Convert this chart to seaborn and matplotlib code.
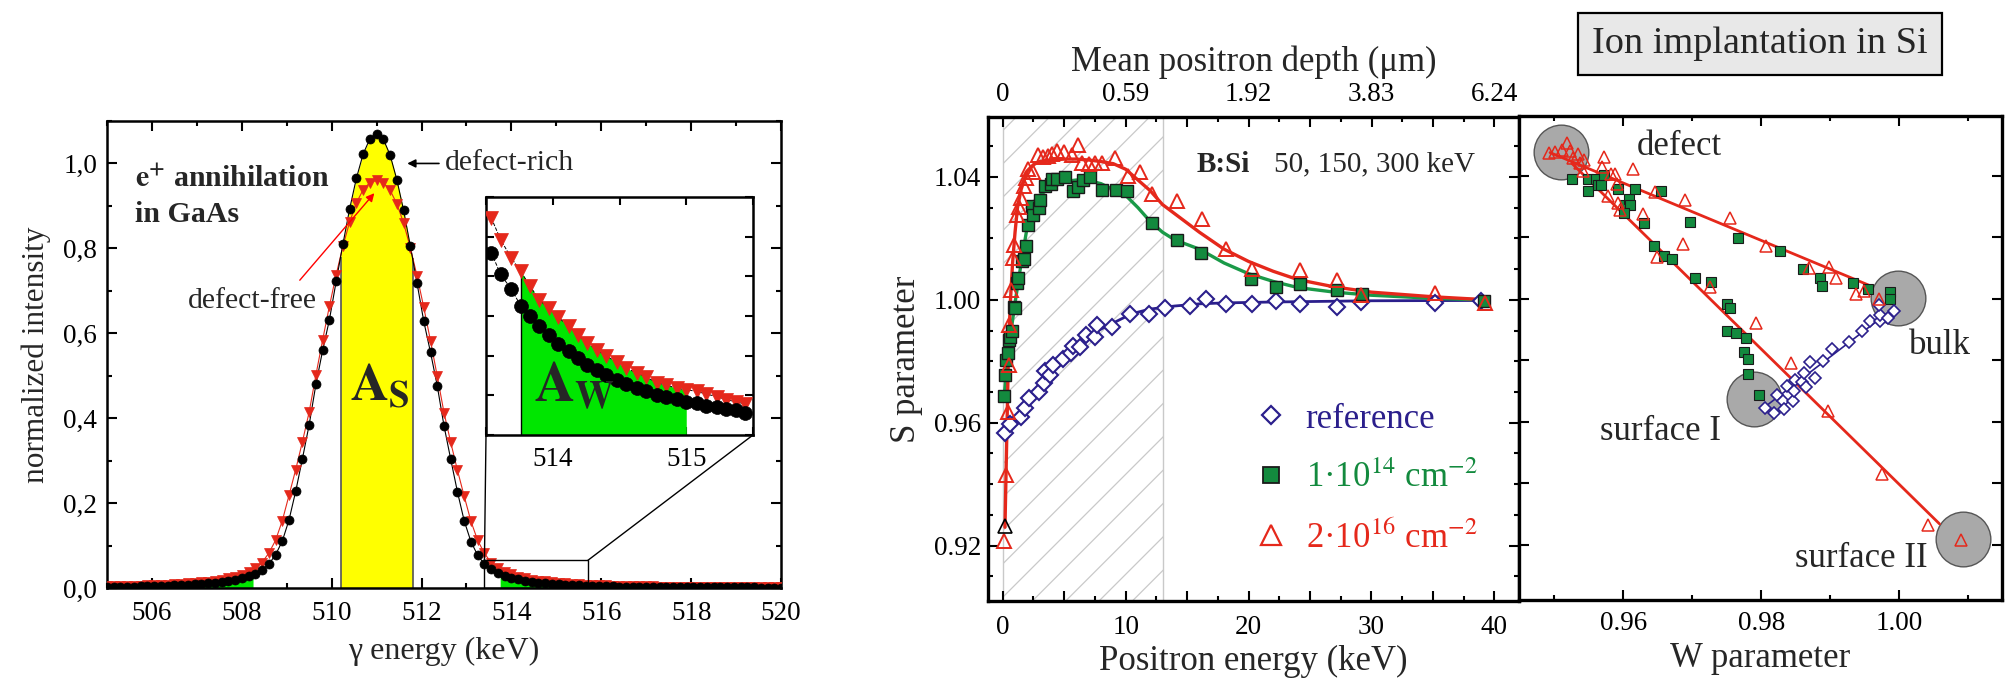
import numpy as np
import matplotlib
matplotlib.use("Agg")
import matplotlib.pyplot as plt
import seaborn as sns
from matplotlib.ticker import MultipleLocator, FixedLocator, FixedFormatter, NullFormatter
from matplotlib.patches import Rectangle, ConnectionPatch
from matplotlib.lines import Line2D

# ---------------- data: left panel (Doppler spectrum) ----------------
energy_keV = [505.00, 505.15, 505.30, 505.45, 505.60, 505.75, 505.90, 506.05, 506.20, 506.35,
              506.50, 506.65, 506.80, 506.95, 507.10, 507.25, 507.40, 507.55, 507.70, 507.85,
              508.00, 508.15, 508.30, 508.45, 508.60, 508.75, 508.90, 509.05, 509.20, 509.35,
              509.50, 509.65, 509.80, 509.95, 510.10, 510.25, 510.40, 510.55, 510.70, 510.85,
              511.00, 511.15, 511.30, 511.45, 511.60, 511.75, 511.90, 512.05, 512.20, 512.35,
              512.50, 512.65, 512.80, 512.95, 513.10, 513.25, 513.40, 513.55, 513.70, 513.85,
              514.00, 514.15, 514.30, 514.45, 514.60, 514.75, 514.90, 515.05, 515.20, 515.35,
              515.50, 515.65, 515.80, 515.95, 516.10, 516.25, 516.40, 516.55, 516.70, 516.85,
              517.00, 517.15, 517.30, 517.45, 517.60, 517.75, 517.90, 518.05, 518.20, 518.35,
              518.50, 518.65, 518.80, 518.95, 519.10, 519.25, 519.40, 519.55, 519.70, 519.85,
              520.00]
defect_rich = [0.0024, 0.0026, 0.0028, 0.0030, 0.0033, 0.0036, 0.0039, 0.0043, 0.0048, 0.0053,
               0.0059, 0.0066, 0.0074, 0.0083, 0.0094, 0.0107, 0.0123, 0.0143, 0.0168, 0.0198,
               0.0235, 0.028, 0.034, 0.043, 0.056, 0.078, 0.110, 0.160, 0.228, 0.305,
               0.385, 0.480, 0.560, 0.632, 0.722, 0.810, 0.893, 0.965, 1.022, 1.058,
               1.070, 1.057, 1.020, 0.962, 0.890, 0.806, 0.718, 0.628, 0.555, 0.476,
               0.382, 0.303, 0.226, 0.158, 0.109, 0.077, 0.056, 0.044, 0.035, 0.029,
               0.0242, 0.0204, 0.0173, 0.0148, 0.0128, 0.0111, 0.0097, 0.0086, 0.0076, 0.0068,
               0.0061, 0.0055, 0.0050, 0.0045, 0.0041, 0.0037, 0.0034, 0.0031, 0.0029, 0.0027,
               0.0025, 0.0023, 0.0022, 0.0021, 0.0020, 0.0019, 0.0018, 0.0017, 0.0016, 0.0016,
               0.0015, 0.0014, 0.0014, 0.0013, 0.0013, 0.0012, 0.0012, 0.0011, 0.0011, 0.0010,
               0.0010]
defect_free = [0.0038, 0.0041, 0.0044, 0.0047, 0.0051, 0.0055, 0.0060, 0.0066, 0.0072, 0.0079,
               0.0087, 0.0096, 0.0107, 0.0119, 0.0134, 0.0151, 0.0172, 0.0197, 0.0228, 0.0265,
               0.0315, 0.038, 0.047, 0.060, 0.082, 0.112, 0.158, 0.218, 0.279, 0.345,
               0.415, 0.502, 0.585, 0.664, 0.738, 0.805, 0.862, 0.907, 0.938, 0.955,
               0.960, 0.955, 0.937, 0.905, 0.860, 0.802, 0.735, 0.661, 0.582, 0.499,
               0.413, 0.343, 0.277, 0.216, 0.157, 0.112, 0.082, 0.059, 0.046, 0.038,
               0.0318, 0.0268, 0.0231, 0.0200, 0.0175, 0.0154, 0.0137, 0.0122, 0.0110, 0.0099,
               0.0090, 0.0082, 0.0075, 0.0069, 0.0063, 0.0058, 0.0053, 0.0049, 0.0046, 0.0043,
               0.0040, 0.0037, 0.0035, 0.0033, 0.0031, 0.0029, 0.0028, 0.0026, 0.0025, 0.0024,
               0.0023, 0.0022, 0.0021, 0.0020, 0.0019, 0.0018, 0.0017, 0.0017, 0.0016, 0.0015,
               0.0015]
s_window = [510.2, 511.8]
w_windows = [[507.0, 508.25], [513.75, 515.0]]
zoom_box = [513.4, 515.7, 0.0, 0.065]
left_yticks = [0.0, 0.2, 0.4, 0.6, 0.8, 1.0]
left_yticklabels = ["0,0", "0,2", "0,4", "0,6", "0,8", "1,0"]

# inset (finer channel sampling)
inset_E = [513.54, 513.61, 513.69, 513.76, 513.83, 513.90, 513.97, 514.04, 514.12, 514.19,
           514.26, 514.33, 514.40, 514.48, 514.55, 514.63, 514.70, 514.78, 514.85, 514.93,
           515.00, 515.08, 515.15, 515.23, 515.30, 515.37, 515.44]
inset_rich = [0.0459, 0.0405, 0.0367, 0.0326, 0.0299, 0.0275, 0.0251, 0.0230, 0.0213, 0.0194,
              0.0176, 0.0164, 0.0151, 0.0138, 0.0128, 0.0118, 0.0110, 0.0101, 0.0095, 0.0090,
              0.0084, 0.0080, 0.0074, 0.0070, 0.0066, 0.0063, 0.0056]
inset_free = [0.0547, 0.0492, 0.0446, 0.0413, 0.0375, 0.0341, 0.0319, 0.0297, 0.0275, 0.0252,
              0.0232, 0.0214, 0.0200, 0.0183, 0.0168, 0.0157, 0.0146, 0.0132, 0.0126, 0.0118,
              0.0114, 0.0110, 0.0103, 0.0097, 0.0089, 0.0084, 0.0078]
inset_w_window = [513.76, 515.0]

# ---------------- data: middle panel (S vs positron energy) ----------------
ref_E = [0.18, 0.63, 1.51, 1.84, 2.11, 2.96, 3.35, 3.47, 3.87, 4.11, 4.92, 5.53, 5.68, 6.28,
         6.74, 7.49, 7.64, 8.88, 10.36, 11.87, 13.23, 15.23, 16.5, 18.16, 20.24, 22.24, 24.17,
         27.16, 29.15, 35.2, 38.94]
ref_S = [0.9567, 0.9596, 0.9618, 0.9649, 0.9682, 0.9701, 0.9728, 0.9767, 0.9756, 0.9788,
         0.9808, 0.9827, 0.9849, 0.9846, 0.9885, 0.9878, 0.9917, 0.9913, 0.9955, 0.9953,
         0.9972, 0.9981, 1.0004, 0.9985, 0.9986, 0.9997, 0.9985, 0.9976, 0.9992, 0.9991, 0.9997]
ref_fit_E = [0.18, 0.5, 1.0, 1.5, 2.0, 3.0, 4.0, 5.0, 6.0, 7.0, 8.0, 9.0, 10.0, 11.0, 12.0,
             13.0, 14.0, 16.0, 18.0, 22.0, 26.0, 30.0, 39.0]
ref_fit_S = [0.9567, 0.959, 0.9605, 0.962, 0.9665, 0.9715, 0.9765, 0.981, 0.985, 0.9885,
             0.9905, 0.9925, 0.9945, 0.996, 0.997, 0.9975, 0.998, 0.9987, 0.999, 0.9993,
             0.9995, 0.9997, 0.9998]

low_E = [0.12, 0.18, 0.30, 0.45, 0.54, 0.62, 0.73, 0.94, 0.97, 1.15, 1.25, 1.55, 1.75, 1.90,
         2.05, 2.40, 2.50, 2.95, 3.05, 3.40, 3.95, 4.02, 4.40, 5.08, 5.68, 6.13, 6.53, 7.13,
         8.10, 9.18, 10.09, 12.18, 14.17, 16.16, 20.18, 22.20, 24.17, 27.20, 29.25, 39.15]
low_S = [0.9686, 0.9756, 0.9805, 0.9827, 0.9869, 0.9880, 0.9897, 0.9977, 0.9972, 1.0055,
         1.0071, 1.0125, 1.0133, 1.0175, 1.0245, 1.0305, 1.0275, 1.0300, 1.0325, 1.0370,
         1.0377, 1.0394, 1.0392, 1.0400, 1.0353, 1.0368, 1.0390, 1.0400, 1.0359, 1.0359,
         1.0353, 1.0250, 1.0195, 1.0154, 1.0068, 1.0041, 1.0051, 1.0032, 1.0019, 0.9997]
low_fit_E = [0.1, 0.5, 1.0, 1.5, 2.0, 2.5, 3.0, 4.0, 5.0, 6.0, 7.0, 8.0, 9.0, 10.0, 11.0,
             12.0, 13.0, 14.0, 16.0, 18.0, 20.0, 22.0, 24.0, 27.0, 30.0, 35.0, 39.0]
low_fit_S = [0.968, 0.985, 0.999, 1.012, 1.024, 1.030, 1.034, 1.037, 1.0385, 1.039, 1.0388,
             1.0378, 1.0358, 1.034, 1.030, 1.0255, 1.022, 1.0195, 1.0165, 1.012, 1.0085,
             1.006, 1.004, 1.0025, 1.0015, 1.0005, 1.0]

high_E = [0.12, 0.30, 0.39, 0.48, 0.54, 0.69, 0.85, 0.94, 1.15, 1.30, 1.45, 1.69, 1.90, 2.05,
          2.50, 2.90, 3.26, 3.70, 4.00, 4.41, 5.00, 5.62, 6.13, 6.43, 7.04, 7.49, 8.10, 9.15,
          10.15, 11.18, 12.18, 14.14, 16.19, 18.13, 20.24, 24.17, 27.19, 29.18, 35.2, 39.2]
high_S = [0.9215, 0.9430, 0.9635, 0.9788, 0.9917, 1.0032, 1.0135, 1.0180, 1.0276, 1.0301,
          1.0333, 1.0372, 1.0397, 1.0426, 1.0417, 1.0471, 1.0464, 1.0468, 1.0474, 1.0485,
          1.0480, 1.0472, 1.0503, 1.0446, 1.0442, 1.0446, 1.0446, 1.0462, 1.0404, 1.0417,
          1.0346, 1.0321, 1.0263, 1.0167, 1.0100, 1.0096, 1.0064, 1.0015, 1.0023, 0.9991]
high_fit_E = [0.18, 0.3, 0.45, 0.6, 0.8, 1.0, 1.2, 1.5, 2.0, 2.5, 3.0, 4.0, 5.0, 6.0, 7.0,
              8.0, 9.0, 10.0, 11.0, 12.0, 13.0, 14.0, 15.0, 16.0, 18.0, 20.0, 22.0, 24.0,
              27.0, 30.0, 35.0, 39.5]
high_fit_S = [0.926, 0.950, 0.980, 0.998, 1.012, 1.022, 1.030, 1.036, 1.042, 1.044, 1.045,
              1.0455, 1.0458, 1.0458, 1.0455, 1.045, 1.0443, 1.0425, 1.039, 1.0355, 1.031,
              1.028, 1.025, 1.022, 1.0165, 1.0125, 1.0093, 1.0066, 1.0042, 1.0025, 1.001, 1.0]
outlier_E = [0.18]
outlier_S = [0.9263]
hatch_range = [0.0, 13.0]
depth_tick_E = [0, 10, 20, 30, 40]
depth_labels = ["0", "0.59", "1.92", "3.83", "6.24"]

# ---------------- data: right panel (S-W plot) ----------------
sw_high_W = [0.94932, 0.95014, 0.95111, 0.95184, 0.95232, 0.95271, 0.95338, 0.95377, 0.95425,
             0.95415, 0.95691, 0.95729, 0.95826, 0.95884, 0.95908, 0.95773, 0.95923, 0.95947,
             0.96135, 0.96285, 0.96464, 0.96488, 0.96865, 0.96899, 0.97251, 0.97551, 0.97928,
             0.98072, 0.98430, 0.98696, 0.98976, 0.99087, 0.99372, 0.99483, 0.99710, 0.98966,
             0.99749, 1.00415, 1.00899]
sw_high_S = [1.04732, 1.04789, 1.04859, 1.05070, 1.04803, 1.04577, 1.04718, 1.04408, 1.04507,
             1.04169, 1.04296, 1.04606, 1.04056, 1.04056, 1.03732, 1.03352, 1.03113, 1.02887,
             1.04225, 1.02746, 1.03465, 1.01352, 1.01775, 1.03211, 1.00394, 1.02620, 0.99225,
             1.01704, 0.97901, 1.01000, 1.01028, 1.00676, 1.00155, 1.00254, 1.00000, 0.96352,
             0.94310, 0.92648, 0.92155]
sw_low_W = [0.95256, 0.95483, 0.95488, 0.95604, 0.95633, 0.95681, 0.95729, 0.95923, 0.96029,
            0.96087, 0.96092, 0.96005, 0.96169, 0.96295, 0.96551, 0.96971, 0.96440, 0.96594,
            0.96705, 0.97034, 0.97271, 0.97671, 0.98266, 0.97502, 0.97541, 0.97502, 0.97633,
            0.97778, 0.97758, 0.97802, 0.97802, 0.97971, 0.98599, 0.98855, 0.98879, 0.99324,
            0.99541, 0.99870, 0.99870]
sw_low_S = [1.03915, 1.03915, 1.03521, 1.03915, 1.03704, 1.03704, 1.04014, 1.03563, 1.03042,
            1.03254, 1.03070, 1.02789, 1.03563, 1.02479, 1.03521, 1.02507, 1.01732, 1.01408,
            1.01310, 1.00676, 1.00563, 1.01972, 1.01549, 0.99831, 0.99718, 0.98958, 0.98887,
            0.98732, 0.98254, 0.98042, 0.97549, 0.96873, 1.00958, 1.00676, 1.00423, 1.00507,
            1.00324, 1.00211, 1.00000]
sw_ref_W = [0.98058, 0.98179, 0.98227, 0.98314, 0.98333, 0.98372, 0.98459, 0.98488, 0.98469,
            0.98589, 0.98614, 0.98647, 0.98710, 0.98783, 0.98889, 0.99024, 0.99266, 0.99459,
            0.99580, 0.99715, 0.99725, 0.99710, 0.99845, 0.99918]
sw_ref_S = [0.96451, 0.96282, 0.96873, 0.96662, 0.96408, 0.97155, 0.96662, 0.97366, 0.97014,
            0.97296, 0.97577, 0.97127, 0.97930, 0.97437, 0.97972, 0.98352, 0.98606, 0.98944,
            0.99268, 0.99268, 0.99479, 0.99789, 0.99366, 0.99620]
line_upper_W = [0.9494, 0.99614]
line_upper_S = [1.0476, 1.00394]
line_lower_W = [0.95256, 1.00585]
line_lower_S = [1.04408, 0.92676]
line_ref_W = [0.98034, 0.99918]
line_ref_S = [0.96451, 0.99690]
state_names = ["defect", "bulk", "surface I", "surface II"]
state_W = [0.95097, 0.99980, 0.97889, 1.00923]
state_S = [1.0479, 1.0004, 0.9673, 0.9218]
state_label_W = [0.96198, 1.00135, 0.95657, 0.98493]
state_label_S = [1.0497, 0.98493, 0.95676, 0.91549]

# ---------------- style ----------------
sns.set_theme(style="ticks")
plt.rcParams["font.family"] = ["Liberation Serif", "DejaVu Serif"]
plt.rcParams["mathtext.fontset"] = "stix"
plt.rcParams["hatch.color"] = "#c9c9c9"
plt.rcParams["hatch.linewidth"] = 0.9
plt.rcParams["axes.facecolor"] = "white"

RED = "#e5281b"
GREEN = "#138a3e"
NAVY = "#2b1f8c"
TICK_FS = 19.5

W_PX, H_PX = 2008, 678
fig = plt.figure(figsize=(W_PX / 100, H_PX / 100), dpi=100)


def px_axes(l, t, r, b):
    return fig.add_axes([l / W_PX, 1 - b / H_PX, (r - l) / W_PX, (b - t) / H_PX])


def style(ax, lw=2.0, fs=TICK_FS, major=7, minor=3.5):
    for s in ax.spines.values():
        s.set_visible(True)
        s.set_linewidth(lw)
        s.set_color("black")
    ax.tick_params(which="both", direction="in", top=True, right=True, colors="black",
                   width=1.5, labelsize=fs)
    ax.tick_params(which="major", length=major)
    ax.tick_params(which="minor", length=minor)
    ax.grid(False)


def marks(ax, x, y, marker, ms, fc, ec, mew=1.3, z=4):
    sns.lineplot(x=x, y=y, ax=ax, estimator=None, sort=False, linestyle="", marker=marker,
                 markersize=ms, markerfacecolor=fc, markeredgecolor=ec, markeredgewidth=mew,
                 zorder=z, legend=False)


def curve(ax, x, y, color, lw, ls="-", z=3):
    sns.lineplot(x=x, y=y, ax=ax, estimator=None, sort=False, color=color, linewidth=lw,
                 linestyle=ls, zorder=z, legend=False)


# ================= LEFT PANEL =================
axL = px_axes(107, 121, 781, 588)
style(axL, lw=1.8)
E = np.array(energy_keV)
rich = np.array(defect_rich)
free = np.array(defect_free)

xs = np.linspace(s_window[0], s_window[1], 60)
axL.fill_between(xs, 0, np.interp(xs, E, rich), color="#ffff00", zorder=1, lw=0)
axL.vlines(s_window, 0, np.interp(s_window, E, rich), color="#555555", lw=1.2, zorder=1.5)
for w0, w1 in w_windows:
    xw = np.linspace(w0, w1, 60)
    axL.fill_between(xw, 0, np.interp(xw, E, free), color="#00e600", zorder=1, lw=0)

curve(axL, energy_keV, defect_free, RED, 0.8, z=2)
curve(axL, energy_keV, defect_rich, "black", 0.8, z=2)
marks(axL, energy_keV, defect_free, "v", 7.0, RED, RED, mew=0.5, z=3)
marks(axL, energy_keV, defect_rich, "o", 6.5, "black", "black", mew=0.5, z=4)

axL.add_patch(Rectangle((zoom_box[0], zoom_box[2]), zoom_box[1] - zoom_box[0],
                        zoom_box[3] - zoom_box[2], fill=False, ec="black", lw=1.0, zorder=5))

axL.set_xlim(505, 520)
axL.set_ylim(0, 1.1)
axL.xaxis.set_major_locator(MultipleLocator(2))
axL.xaxis.set_minor_locator(MultipleLocator(1))
axL.yaxis.set_major_locator(FixedLocator(left_yticks))
axL.yaxis.set_major_formatter(FixedFormatter(left_yticklabels))
axL.yaxis.set_minor_locator(MultipleLocator(0.1))
axL.tick_params(axis="x", pad=9)
axL.tick_params(axis="y", pad=7)
axL.set_xlabel("γ energy (keV)", fontsize=23, labelpad=8)
axL.set_ylabel("normalized intensity", fontsize=22.5, labelpad=9)

axL.text(505.62, 0.963, r"$\mathbf{e^{+}}$ annihilation", fontsize=21.5, fontweight="bold",
         va="center", ha="left")
axL.text(505.62, 0.879, "in GaAs", fontsize=21.5, fontweight="bold", va="center", ha="left")
axL.annotate("", xy=(511.62, 1.0), xytext=(512.45, 1.0),
             arrowprops=dict(arrowstyle="-|>", color="black", lw=1.2, mutation_scale=12))
axL.text(512.52, 1.0, "defect-rich", fontsize=21.5, va="center", ha="left")
axL.text(506.8, 0.676, "defect-free", fontsize=21.5, va="center", ha="left")
axL.annotate("", xy=(510.99, 0.935), xytext=(509.25, 0.72),
             arrowprops=dict(arrowstyle="-|>", color="red", lw=1.0, mutation_scale=12))
axL.text(510.4, 0.443, r"$\mathbf{A}_{\mathbf{S}}$", fontsize=38, va="baseline", ha="left",
         zorder=6)

# inset
axIn = px_axes(486, 197, 753, 435)
style(axIn, lw=1.8, major=6, minor=3)
iE = np.array(inset_E)
ifree = np.array(inset_free)
xw = np.linspace(inset_w_window[0], inset_w_window[1], 60)
axIn.fill_between(xw, 0, np.interp(xw, iE, ifree), color="#00e600", zorder=1, lw=0)
axIn.vlines([inset_w_window[0]], 0, np.interp([inset_w_window[0]], iE, ifree), color="black",
            lw=1.0, zorder=1.5)
curve(axIn, inset_E, inset_free, "black", 0.7, ls="--", z=2)
curve(axIn, inset_E, inset_rich, "black", 0.7, ls="--", z=2)
marks(axIn, inset_E, inset_free, "v", 10, RED, RED, mew=0.5, z=3)
marks(axIn, inset_E, inset_rich, "o", 10, "black", "black", mew=0.5, z=4)
axIn.set_xlim(513.5, 515.5)
axIn.set_ylim(0, 0.06)
axIn.xaxis.set_major_locator(FixedLocator([513.5, 514.0, 514.5, 515.0, 515.5]))
axIn.xaxis.set_major_formatter(FixedFormatter(["", "514", "", "515", ""]))
axIn.yaxis.set_major_locator(MultipleLocator(0.01))
axIn.yaxis.set_major_formatter(NullFormatter())
axIn.tick_params(axis="x", pad=9)
axIn.set_xlabel("")
axIn.set_ylabel("")
axIn.text(513.86, 0.0084, r"$\mathbf{A}_{\mathbf{W}}$", fontsize=40, va="baseline", ha="left",
          zorder=6)

for xyA, xyB in [((zoom_box[0], zoom_box[3]), (0, 0)), ((zoom_box[1], zoom_box[3]), (1, 0))]:
    con = ConnectionPatch(xyA=xyA, coordsA=axL.transData, xyB=xyB, coordsB=axIn.transAxes,
                          color="black", lw=1.0)
    fig.add_artist(con)

# ================= MIDDLE PANEL =================
axM = px_axes(988, 117, 1519, 601)
style(axM, lw=2.4)
axM.axvspan(hatch_range[0], hatch_range[1], facecolor="none", edgecolor="#c9c9c9", hatch="/",
            lw=1.0, zorder=0.5)
curve(axM, ref_fit_E, ref_fit_S, NAVY, 2.0, z=2)
curve(axM, low_fit_E, low_fit_S, "#1a9a48", 2.4, z=2)
curve(axM, high_fit_E, high_fit_S, RED, 2.4, z=2)
marks(axM, ref_E, ref_S, "D", 8.5, "white", NAVY, mew=1.5, z=4)
marks(axM, low_E, low_S, "s", 9, GREEN, "#1a1a1a", mew=1.0, z=4)
marks(axM, high_E, high_S, "^", 10.5, "none", RED, mew=1.4, z=5)
marks(axM, outlier_E, outlier_S, "^", 10.5, "none", "black", mew=1.2, z=5)
axM.set_xlim(-1.2, 42.0)
axM.set_ylim(0.902, 1.0595)
axM.xaxis.set_major_locator(FixedLocator([-5, 0, 5, 10, 15, 20, 25, 30, 35, 40, 45]))
axM.xaxis.set_major_formatter(FixedFormatter(["", "0", "", "10", "", "20", "", "30", "", "40", ""]))
axM.xaxis.set_minor_locator(MultipleLocator(2.5))
axM.yaxis.set_major_locator(MultipleLocator(0.04))
axM.yaxis.set_major_formatter(plt.FuncFormatter(lambda v, p: f"{v:.2f}"))
axM.yaxis.set_minor_locator(MultipleLocator(0.01))
axM.tick_params(axis="x", pad=10, top=False)
axM.tick_params(axis="y", pad=5)
axM.set_xlabel("Positron energy (keV)", fontsize=25, labelpad=4)
axM.set_ylabel("S parameter", fontsize=25, labelpad=8)

axT = axM.twiny()
axT.set_xlim(axM.get_xlim())
axT.xaxis.set_major_locator(FixedLocator([0, 5, 10, 15, 20, 25, 30, 35, 40]))
axT.xaxis.set_major_formatter(FixedFormatter([depth_labels[0], "", depth_labels[1], "",
                                              depth_labels[2], "", depth_labels[3], "",
                                              depth_labels[4]]))
axT.xaxis.set_minor_locator(MultipleLocator(2.5))
axT.tick_params(axis="x", which="both", direction="in", labelsize=TICK_FS, width=1.5, pad=7,
                colors="black")
axT.tick_params(axis="x", which="major", length=7)
axT.tick_params(axis="x", which="minor", length=3.5)
for s in axT.spines.values():
    s.set_visible(False)
axT.set_xlabel("Mean positron depth (μm)", fontsize=25, labelpad=8)

axM.text(15.8, 1.0442, "B:Si", fontsize=21, fontweight="bold", va="center", ha="left")
axM.text(22.1, 1.0442, "50, 150, 300 keV", fontsize=21, va="center", ha="left")

handles = [Line2D([], [], ls="", marker="D", ms=9, mfc="white", mec=NAVY, mew=1.6),
           Line2D([], [], ls="", marker="s", ms=11, mfc=GREEN, mec="#1a1a1a", mew=1.3),
           Line2D([], [], ls="", marker="^", ms=14, mfc="none", mec=RED, mew=1.6)]
leg = axM.legend(handles, ["reference", "1·10$^{14}$ cm$^{-2}$", "2·10$^{16}$ cm$^{-2}$"],
                 loc="upper left", bbox_to_anchor=(0.5, 0.41), frameon=False, fontsize=25,
                 handlelength=1.0, handletextpad=0.5, labelspacing=0.75, borderpad=0,
                 borderaxespad=0, labelcolor=[NAVY, GREEN, RED])

# ================= RIGHT PANEL =================
axR = px_axes(1519, 116, 2002, 600)
style(axR, lw=2.4)
sns.scatterplot(x=state_W, y=state_S, ax=axR, s=1550, color="#a9a9a9", edgecolor="#555555",
                linewidth=1.0, zorder=1, legend=False)
curve(axR, line_upper_W, line_upper_S, RED, 2.0, z=2)
curve(axR, line_lower_W, line_lower_S, RED, 2.0, z=2)
curve(axR, line_ref_W, line_ref_S, NAVY, 1.2, z=2)
marks(axR, sw_low_W, sw_low_S, "s", 7, GREEN, "#1a1a1a", mew=0.8, z=3)
marks(axR, sw_ref_W, sw_ref_S, "D", 6.5, "white", NAVY, mew=1.2, z=4)
marks(axR, sw_high_W, sw_high_S, "^", 8.5, "none", RED, mew=1.1, z=5)
for name, wx, sy in zip(state_names, state_label_W, state_label_S):
    axR.text(wx, sy, name, fontsize=25, va="center", ha="left")
axR.set_xlim(0.9449, 1.0149)
axR.set_ylim(0.902, 1.0595)
axR.xaxis.set_major_locator(FixedLocator([0.96, 0.98, 1.00]))
axR.xaxis.set_major_formatter(FixedFormatter(["0.96", "0.98", "1.00"]))
axR.xaxis.set_minor_locator(FixedLocator([0.95, 0.97, 0.99, 1.01]))
axR.yaxis.set_major_locator(MultipleLocator(0.02))
axR.yaxis.set_major_formatter(NullFormatter())
axR.yaxis.set_minor_locator(FixedLocator([]))
axR.tick_params(axis="x", pad=8)
axR.set_xlabel("W parameter", fontsize=25, labelpad=4)
axR.set_ylabel("")

fig.text(1760 / W_PX, 1 - 44 / H_PX, "Ion implantation in Si", fontsize=27.5, ha="center",
         va="center", bbox=dict(boxstyle="square,pad=0.36", fc="#e8e8e8", ec="black", lw=1.6))

fig.savefig("out.png", dpi=100)
